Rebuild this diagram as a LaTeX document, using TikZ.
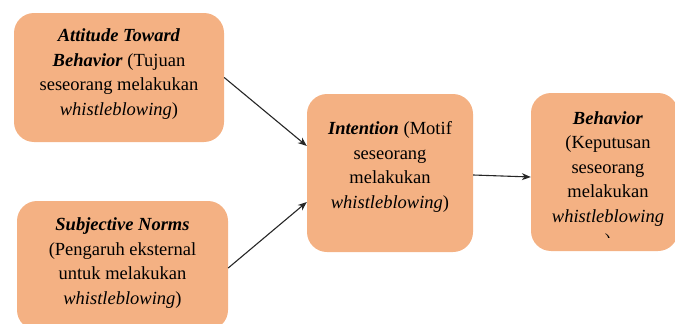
\documentclass[tikz,border=0pt]{standalone}
\usepackage{fontspec}
\setmainfont{Liberation Serif}
\usetikzlibrary{arrows.meta}
\definecolor{boxfill}{HTML}{F4B183}
\begin{document}
\begin{tikzpicture}[x=1pt,y=1pt,
  box/.style n args={2}{draw=none, fill=boxfill, rounded corners=20pt, inner sep=0pt,
      minimum width=#1, minimum height=#2},
  txt/.style={align=center, font=\fontsize{18.5}{24.5}\selectfont, inner sep=0pt, text=black},
  conn/.style={draw=black!85, line width=1.1pt, -{Stealth[length=9pt,width=7pt]}}]
\useasboundingbox (0,0) rectangle (675,-324);
\clip (0,0) rectangle (675,-324);
% boxes
\node[box={210pt}{129pt}] (A) at (119,-77.5) {};
\node[box={211pt}{129pt}] (B) at (122.5,-265.5) {};
\node[box={166pt}{158pt}] (C) at (390,-173) {};
\node[box={147pt}{158pt}] (D) at (604.5,-172) {};
% texts
\node[txt] (tA) at (119,-74) {\textbf{\textit{Attitude Toward}}\\\textbf{\textit{Behavior}} (Tujuan\\seseorang melakukan\\\textit{whistleblowing})};
\node[txt] (tB) at (122.5,-263) {\textbf{\textit{Subjective Norms}}\\(Pengaruh eksternal\\untuk melakukan\\\textit{whistleblowing})};
\node[txt] (tC) at (390,-167) {\textbf{\textit{Intention}} (Motif\\seseorang\\melakukan\\\textit{whistleblowing})};
\begin{scope}
\clip (525,-80) rectangle (675,-237);
\node[txt] (tD) at (608,-181) {\textbf{\textit{Behavior}}\\(Keputusan\\seseorang\\melakukan\\\textit{whistleblowing}\\)};
\end{scope}
% connectors
\draw[conn] (A.east) -- ([yshift=27pt]C.west);
\draw[conn] ([yshift=-2.5pt]B.east) -- ([yshift=-29pt]C.west);
\draw[conn] ([yshift=-2pt]C.east) -- ([yshift=-5pt]D.west);
\end{tikzpicture}
\end{document}
